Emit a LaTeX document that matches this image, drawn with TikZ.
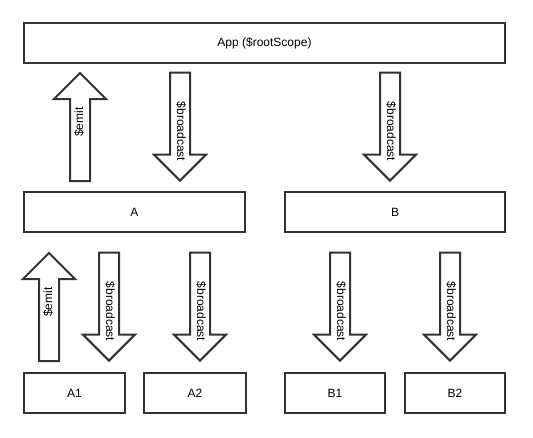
\documentclass[tikz,border=0pt]{standalone}
\usepackage{fontspec}
\setmainfont{Liberation Sans}
\usetikzlibrary{shapes.arrows, positioning}
\tikzset{
    box/.style={rectangle, draw=black!80, line width=1.5pt, minimum height=30pt, inner sep=0pt, align=center},
    event/.style={single arrow, draw=black!80, line width=1.5pt, minimum height=81pt, minimum width=37.5pt, single arrow head extend=12pt, text height=6pt, text depth=1.5pt, inner ysep=3pt, inner xsep=0pt,
        execute at begin node=\hspace*{7.5pt}, execute at end node=\hspace*{-7.5pt}},
    down/.style={event, rotate=-90, anchor=tip},
    up/.style={event, rotate=90, anchor=tail}
}

\begin{document}
\begin{tikzpicture}[x=0.75pt, y=-0.75pt, font=\fontsize{9}{10}\selectfont]
    \useasboundingbox (0,0) rectangle (533,437);

    % Scopes
    \node[box, minimum width=360.75pt] (App) at (264.5,43) {App (\$rootScope)};
    \node[box, minimum width=166pt] (A) at (134.5,212) {A};
    \node[box, minimum width=165pt] (B) at (395,212) {B};
    \node[box, minimum width=75.75pt] (A1) at (74.5,393) {A1};
    \node[box, minimum width=76.5pt] (A2) at (195,393) {A2};
    \node[box, minimum width=75pt] (B1) at (335,393) {B1};
    \node[box, minimum width=75pt] (B2) at (455,393) {B2};

    % Events between App and A, B
    \node[up] (emitA) at ([yshift=6.75pt]80,0 |- A.north) {\$emit};
    \node[down] (castA) at ([yshift=6.75pt]180,0 |- A.north) {\$broadcast};
    \node[down] (castB) at ([yshift=6.75pt]390,0 |- B.north) {\$broadcast};

    % Events between A, B and their children
    \node[up] (emitA1) at ([yshift=7.5pt]49,0 |- A1.north) {\$emit};
    \node[down] (castA1) at ([yshift=7.5pt]109,0 |- A1.north) {\$broadcast};
    \node[down] (castA2) at ([yshift=7.5pt]200,0 |- A2.north) {\$broadcast};
    \node[down] (castB1) at ([yshift=7.5pt]340,0 |- B1.north) {\$broadcast};
    \node[down] (castB2) at ([yshift=7.5pt]450,0 |- B2.north) {\$broadcast};

\end{tikzpicture}
\end{document}
